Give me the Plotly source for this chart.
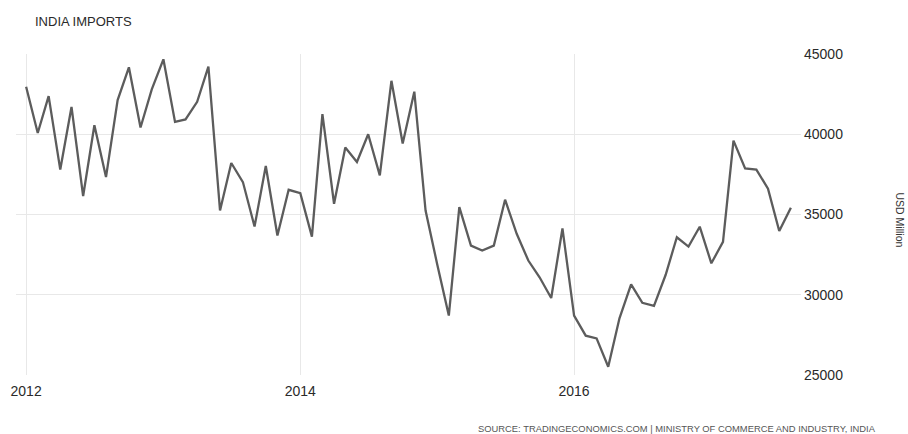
import pandas as pd
import plotly.graph_objects as go

start_month = "2012-01-01"
imports_usd_million = [
    # 2012
    42960, 40080, 42375, 37800, 41700, 36150, 40560, 37330, 42125, 44170, 40420, 42800,
    # 2013
    44670, 40770, 40920, 42020, 44210, 35250, 38210, 37020, 34250, 38020, 33690, 36540,
    # 2014
    36330, 33620, 41250, 35670, 39170, 38270, 40000, 37440, 43330, 39420, 42650, 35250,
    # 2015
    31900, 28700, 35460, 33060, 32750, 33060, 35920, 33800, 32130, 31090, 29800, 34130,
    # 2016
    28700, 27450, 27280, 25510, 28530, 30650, 29500, 29300, 31230, 33580, 33000, 34240,
    # 2017
    31960, 33300, 39600, 37870, 37800, 36610, 33970, 35420,
]
y_ticks = [25000, 30000, 35000, 40000, 45000]
x_tick_dates = ["2012-01-01", "2014-01-01", "2016-01-01"]
x_tick_labels = ["2012", "2014", "2016"]

dates = pd.date_range(start=start_month, periods=len(imports_usd_million), freq="MS")

fig = go.Figure()
fig.add_trace(go.Scatter(
    x=dates, y=imports_usd_million, mode="lines",
    line=dict(color="#5c5c5c", width=2.3), hoverinfo="skip",
))

font_family = "Liberation Sans, Arial, sans-serif"
fig.update_layout(
    width=908, height=434,
    margin=dict(l=11, r=107, t=54, b=59),
    paper_bgcolor="white", plot_bgcolor="white",
    showlegend=False,
    font=dict(family=font_family, size=13, color="#333333"),
    xaxis=dict(
        range=["2011-12-05", "2017-08-28"],
        tickvals=x_tick_dates, ticktext=x_tick_labels,
        showgrid=True, gridcolor="#e8e8e8", gridwidth=1,
        zeroline=False, showline=False, ticks="",
        ticklabeloverflow="allow", ticklabelstandoff=6,
        tickfont=dict(size=14, color="#2a2a2a"),
    ),
    yaxis=dict(
        range=[25000, 45000], side="right",
        tickvals=y_ticks, ticktext=[str(v) for v in y_ticks],
        showgrid=True, gridcolor="#e8e8e8", gridwidth=1,
        zeroline=False, showline=False, ticks="", ticklabelstandoff=2,
        tickfont=dict(size=14, color="#2a2a2a"),
    ),
    annotations=[
        dict(text="INDIA IMPORTS", xref="paper", yref="paper", x=0.0, y=1.0,
             xshift=17, yshift=33, xanchor="left", yanchor="middle", showarrow=False,
             font=dict(size=13, color="#2a2a2a", family=font_family)),
        dict(text="USD Million", xref="paper", yref="paper", x=1.0, y=0.5,
             xshift=99, yshift=-5, xanchor="center", yanchor="middle", showarrow=False,
             textangle=90, font=dict(size=10.5, color="#333333", family=font_family)),
        dict(text="SOURCE: TRADINGECONOMICS.COM | MINISTRY OF COMMERCE AND INDUSTRY, INDIA",
             xref="paper", yref="paper", x=1.0, y=0.0, xshift=77, yshift=-53,
             xanchor="right", yanchor="middle", showarrow=False,
             font=dict(size=9.4, color="#555555", family=font_family)),
    ],
)

fig.write_html("out.html", config={"displayModeBar": False},
               post_script="document.body.style.margin='0px';")
